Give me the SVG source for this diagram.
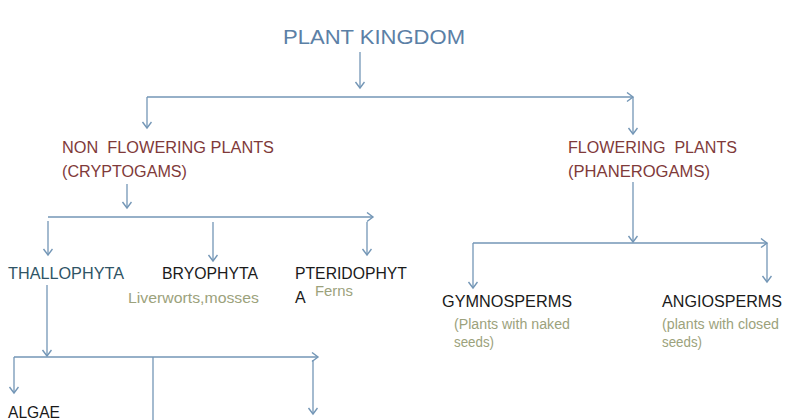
<svg xmlns="http://www.w3.org/2000/svg" width="800" height="420" viewBox="0 0 800 420">
<style>
text{font-family:"Liberation Sans",Arial,sans-serif}
.title{font-size:21px;fill:#5b80a6}
.red{font-size:16px;fill:#7f3a3a}
.blk{font-size:16px;fill:#1a1a1a}
.teal{font-size:16px;fill:#2f5466}
.note{font-size:14px;fill:#9ca27c}
.ln{fill:none;stroke:#7396b6;stroke-width:1.3}
</style>
<defs>
<marker id="ah" markerUnits="userSpaceOnUse" markerWidth="12" markerHeight="12" refX="7" refY="5" orient="auto">
<path d="M1,0.5 L7,5 L1,9.5" fill="none" stroke="#7396b6" stroke-width="1.4"/>
</marker>
</defs>
<rect width="800" height="420" fill="#ffffff"/>
<g id="connectors">
<line class="ln" x1="360" y1="52" x2="360" y2="88" marker-end="url(#ah)"/>
<line class="ln" x1="147" y1="97" x2="633" y2="97" marker-end="url(#ah)"/>
<polyline class="ln" points="147,97 147,128" marker-end="url(#ah)"/>
<line class="ln" x1="633" y1="97" x2="633" y2="134" marker-end="url(#ah)"/>
<line class="ln" x1="127" y1="184" x2="127" y2="208" marker-end="url(#ah)"/>
<line class="ln" x1="48" y1="217" x2="373" y2="217" marker-end="url(#ah)"/>
<line class="ln" x1="48" y1="221" x2="48" y2="255" marker-end="url(#ah)"/>
<line class="ln" x1="213" y1="222" x2="213" y2="261" marker-end="url(#ah)"/>
<line class="ln" x1="367" y1="222" x2="367" y2="255" marker-end="url(#ah)"/>
<line class="ln" x1="633" y1="182" x2="633" y2="242" marker-end="url(#ah)"/>
<line class="ln" x1="473" y1="243" x2="767" y2="243" marker-end="url(#ah)"/>
<line class="ln" x1="473" y1="243" x2="473" y2="288" marker-end="url(#ah)"/>
<line class="ln" x1="767" y1="243" x2="767" y2="282" marker-end="url(#ah)"/>
<line class="ln" x1="47" y1="285" x2="47" y2="356" marker-end="url(#ah)"/>
<line class="ln" x1="14" y1="357" x2="318" y2="357" marker-end="url(#ah)"/>
<line class="ln" x1="14" y1="357" x2="14" y2="393" marker-end="url(#ah)"/>
<line class="ln" x1="153" y1="357" x2="153" y2="420"/>
<line class="ln" x1="313" y1="360" x2="313" y2="414" marker-end="url(#ah)"/>
</g>
<g id="plant-kingdom">
<text class="title" x="283" y="44" textLength="182" lengthAdjust="spacingAndGlyphs">PLANT KINGDOM</text>
</g>
<g id="non-flowering">
<text class="red" x="62" y="153" textLength="212" lengthAdjust="spacingAndGlyphs" xml:space="preserve">NON  FLOWERING PLANTS</text>
<text class="red" x="62" y="177" textLength="125" lengthAdjust="spacingAndGlyphs">(CRYPTOGAMS)</text>
</g>
<g id="flowering">
<text class="red" x="568" y="153" textLength="169" lengthAdjust="spacingAndGlyphs" xml:space="preserve">FLOWERING  PLANTS</text>
<text class="red" x="568" y="177" textLength="142" lengthAdjust="spacingAndGlyphs">(PHANEROGAMS)</text>
</g>
<g id="thallophyta">
<text class="teal" x="8" y="279" textLength="116" lengthAdjust="spacingAndGlyphs">THALLOPHYTA</text>
</g>
<g id="bryophyta">
<text class="blk" x="162" y="279" textLength="96" lengthAdjust="spacingAndGlyphs">BRYOPHYTA</text>
<text class="note" x="128" y="303" textLength="131" lengthAdjust="spacingAndGlyphs">Liverworts,mosses</text>
</g>
<g id="pteridophyta">
<text class="blk" x="295" y="279" textLength="112" lengthAdjust="spacingAndGlyphs">PTERIDOPHYT</text>
<text class="blk" x="295" y="303">A</text>
<text class="note" x="315" y="296" textLength="38" lengthAdjust="spacingAndGlyphs">Ferns</text>
</g>
<g id="gymnosperms">
<text class="blk" x="442" y="307" textLength="130" lengthAdjust="spacingAndGlyphs">GYMNOSPERMS</text>
<text class="note" x="454" y="329" textLength="116" lengthAdjust="spacingAndGlyphs">(Plants with naked</text>
<text class="note" x="454" y="347" textLength="40" lengthAdjust="spacingAndGlyphs">seeds)</text>
</g>
<g id="angiosperms">
<text class="blk" x="662" y="307" textLength="120" lengthAdjust="spacingAndGlyphs">ANGIOSPERMS</text>
<text class="note" x="662" y="329" textLength="117" lengthAdjust="spacingAndGlyphs">(plants with closed</text>
<text class="note" x="662" y="347" textLength="40" lengthAdjust="spacingAndGlyphs">seeds)</text>
</g>
<g id="algae">
<text class="blk" x="8" y="418" textLength="52" lengthAdjust="spacingAndGlyphs">ALGAE</text>
</g>
</svg>
